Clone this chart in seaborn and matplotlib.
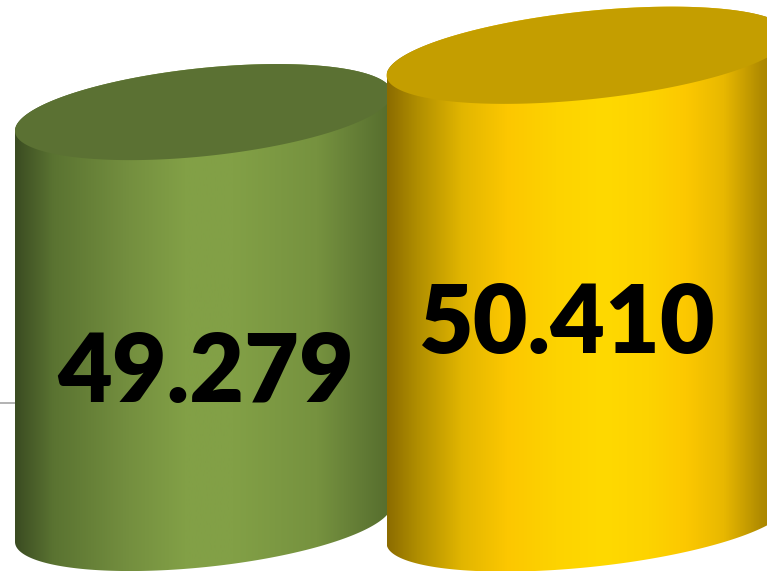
import numpy as np
import matplotlib
matplotlib.use("Agg")
import matplotlib.pyplot as plt
import seaborn as sns
from matplotlib.path import Path
from matplotlib.patches import PathPatch
from matplotlib.colors import LinearSegmentedColormap

# ---- data ----
categories = ["A", "B"]
values = [49.279, 50.410]
labels = ["49.279", "50.410"]
gridline_value = 43.49

# ---- styles ----
side_stops = [
    [(0.0, "#3b4c22"), (0.1, "#5a7331"), (0.3, "#748f3f"), (0.45, "#82a046"),
     (0.58, "#82a046"), (0.8, "#76923f"), (0.93, "#607934"), (1.0, "#556c2c")],
    [(0.0, "#8c6c00"), (0.074, "#b08e00"), (0.186, "#e2b600"), (0.297, "#fcc700"),
     (0.418, "#fdd300"), (0.539, "#ffd900"), (0.65, "#fdd300"), (0.743, "#fcc800"),
     (0.836, "#e8b800"), (0.929, "#b08b00"), (1.0, "#9a7800")],
]
top_colors = ["#5b7133", "#c49e00"]
bar_widths_px = [379, 405]
label_dx_px = [2, -22]
label_dy_px = [290, 298]

sns.set_theme(style="white")
plt.rcParams["font.family"] = ["Lato", "DejaVu Sans"]

W, H = 767, 571
fig = plt.figure(figsize=(W / 100, H / 100), dpi=100)
ax = fig.add_axes([0, 0, 1, 1])
ax.set_axis_off()

baseline = 41.1
ymin, ymax = 40.145, 51.51
xlim = (-0.5293, 1.4655)
ax.set_xlim(*xlim)
ax.set_ylim(ymin, ymax)
sx = W / (xlim[1] - xlim[0])
sy = H / (ymax - ymin)

theta = np.deg2rad(6.0)
b_px = 44.0


def ellipse_pts(cx, cy, a, t):
    ex = a * np.cos(t) * np.cos(theta) - b_px * np.sin(t) * np.sin(theta)
    ey = a * np.cos(t) * np.sin(theta) + b_px * np.sin(t) * np.cos(theta)
    return cx + ex / sx, cy + ey / sy


ax.axhline(gridline_value, color="#a6a6a6", lw=1.2, zorder=0)

for i, (cat, v, lab) in enumerate(zip(categories, values, labels)):
    cx = i
    a = bar_widths_px[i] / 2
    t_r = np.arctan2(-b_px * np.sin(theta), a * np.cos(theta))
    t_l = t_r + np.pi
    tb = np.linspace(t_l, t_r + 2 * np.pi, 300)
    bx, by = ellipse_pts(cx, baseline, a, tb)
    tt = np.linspace(t_r, t_l, 300)
    tx, ty = ellipse_pts(cx, v, a, tt)
    xs = np.concatenate([bx, tx])
    ys = np.concatenate([by, ty])
    verts = np.column_stack([xs, ys])
    side = PathPatch(Path(np.vstack([verts, verts[:1]]), closed=True),
                     facecolor="none", edgecolor="none", zorder=2 + 2 * i)
    ax.add_patch(side)
    cmap = LinearSegmentedColormap.from_list(f"c{i}", side_stops[i])
    grad = np.linspace(0, 1, 512).reshape(1, -1)
    im = ax.imshow(grad, cmap=cmap, aspect="auto",
                   extent=[xs.min(), xs.max(), ymin, ymax],
                   zorder=2 + 2 * i, interpolation="bilinear")
    im.set_clip_path(side)
    t = np.linspace(0, 2 * np.pi, 400)
    ex, ey = ellipse_pts(cx, v, a, t)
    ax.fill(ex, ey, color=top_colors[i], zorder=3 + 2 * i, lw=0)
    ax.text(cx + label_dx_px[i] / sx, v - label_dy_px[i] / sy, lab,
            ha="center", va="baseline", fontsize=68, fontweight="heavy",
            color="black", zorder=10)

ax.set_xlim(*xlim)
ax.set_ylim(ymin, ymax)
fig.savefig("out.png", dpi=100)
